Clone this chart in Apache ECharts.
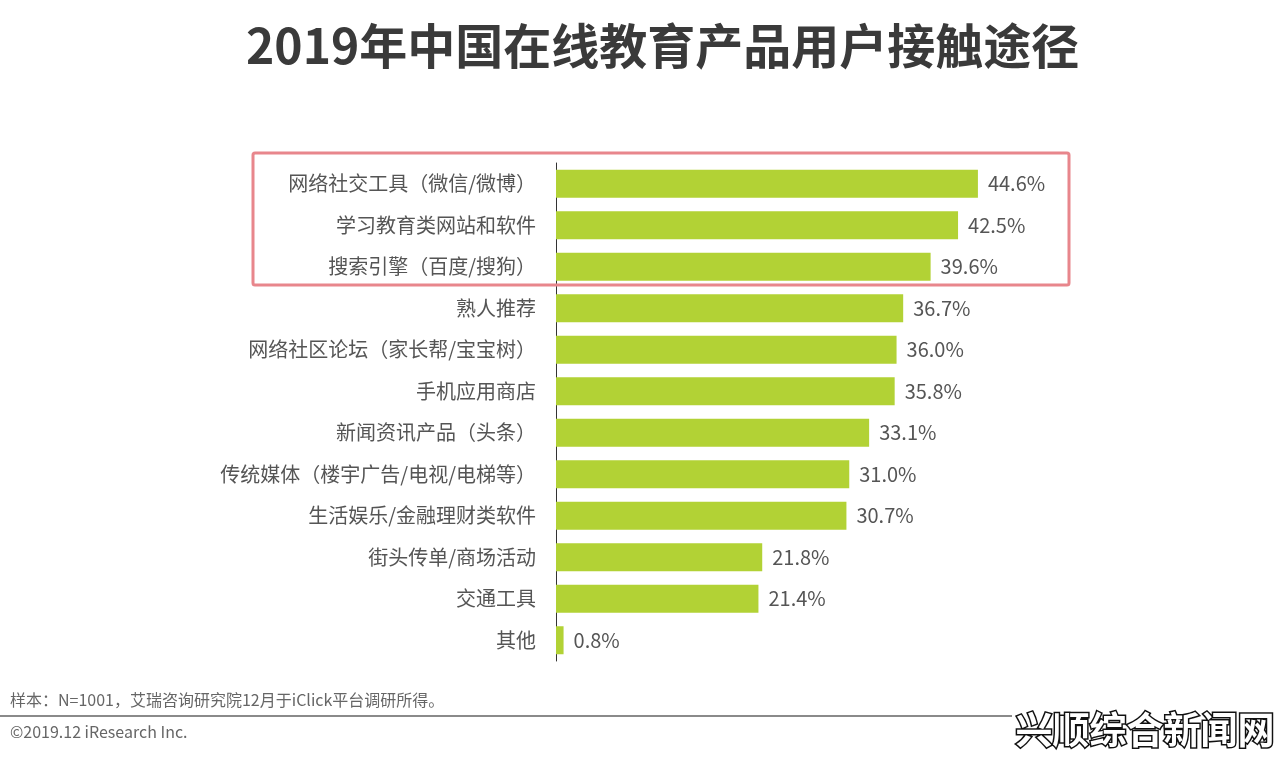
<!DOCTYPE html>
<html><head><meta charset="utf-8">
<script src="https://cdn.jsdelivr.net/npm/echarts@6/dist/echarts.min.js"></script>
<style>html,body{margin:0;padding:0;background:#fff;}#c{width:1280px;height:759px;}</style>
</head><body><div id="c"></div>
<script>
const categories = ['网络社交工具（微信/微博）','学习教育类网站和软件','搜索引擎（百度/搜狗）','熟人推荐','网络社区论坛（家长帮/宝宝树）','手机应用商店','新闻资讯产品（头条）','传统媒体（楼宇广告/电视/电梯等）','生活娱乐/金融理财类软件','街头传单/商场活动','交通工具','其他'];
const values = [44.6,42.5,39.6,36.7,36.0,35.8,33.1,31.0,30.7,21.8,21.4,0.8];
const titleText = '2019年中国在线教育产品用户接触途径';
const noteText = '样本：N=1001，艾瑞咨询研究院12月于iClick平台调研所得。';
const copyText = '©2019.12 iResearch Inc.';
const watermark = '兴顺综合新闻网';

const chart = echarts.init(document.getElementById('c'));
const FONT = '"Noto Sans CJK SC", "Noto Sans", sans-serif';
chart.setOption({
  animation: false,
  textStyle: {fontFamily: FONT},
  title: {text: titleText, left: 241, top: 17,
    textStyle: {fontSize: 48, fontWeight: 'bold', color: '#3a3a3a', fontFamily: FONT}},
  grid: {left: 556, width: 473, top: 163, height: 498},
  xAxis: {type: 'value', min: 0, max: 50, show: false},
  yAxis: {type: 'category', data: categories, inverse: true,
    axisLine: {show: true, lineStyle: {color: '#333', width: 1}},
    axisTick: {show: false},
    axisLabel: {fontSize: 20, color: '#555', margin: 20, fontFamily: FONT}},
  series: [{type: 'bar', data: values, barWidth: 28,
    itemStyle: {color: '#b2d235'},
    label: {show: true, position: 'right', distance: 10, formatter: p => p.value.toFixed(1) + '%',
      fontSize: 20, color: '#555', fontFamily: FONT}}],
  graphic: [
    {type: 'rect', shape: {x: 253, y: 153, width: 816, height: 132, r: 2},
      style: {fill: 'none', stroke: '#e8868c', lineWidth: 3}, z: 10},
    {type: 'text', left: 10, top: 692, style: {text: noteText, fontSize: 16, fill: '#666', fontFamily: FONT}},
    {type: 'line', shape: {x1: 0, y1: 716, x2: 1012, y2: 716}, style: {stroke: '#8a8a8a', lineWidth: 2}},
    {type: 'text', left: 10, top: 724, style: {text: copyText, fontSize: 16, fill: '#666', fontFamily: FONT}},
    {type: 'text', left: 1014, top: 710, style: {text: watermark, fontSize: 37, fontWeight: 'bold',
      fill: '#fff', stroke: '#111', lineWidth: 3, fontFamily: FONT}}
  ]
});
</script></body></html>
